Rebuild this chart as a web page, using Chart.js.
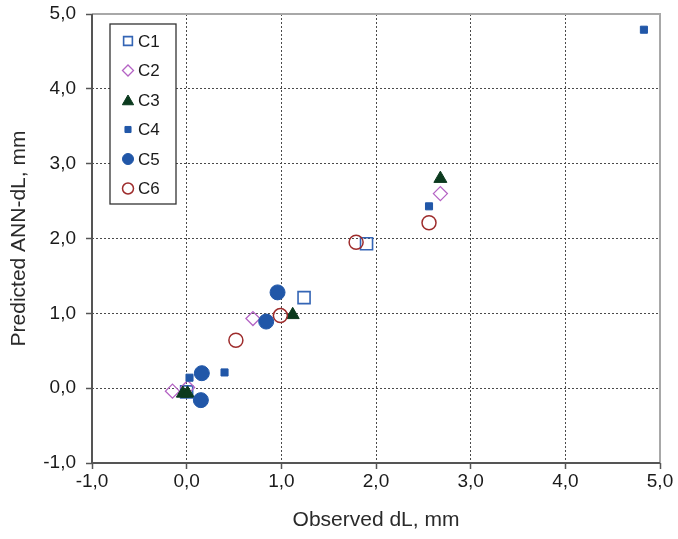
<!DOCTYPE html>
<html>
<head>
<meta charset="utf-8">
<script src="https://cdn.jsdelivr.net/npm/chart.js@4/dist/chart.umd.min.js"></script>
<style>
  html, body { margin: 0; padding: 0; background: #ffffff; }
  #wrap { width: 678px; height: 539px; position: relative; }
</style>
</head>
<body>
<div id="wrap"><canvas id="c" width="678" height="539"></canvas></div>
<script>
// ---- data ----
const seriesNames = ['C1', 'C2', 'C3', 'C4', 'C5', 'C6'];
const xC1 = [0.00, 1.24, 1.90];
const yC1 = [-0.05, 1.21, 1.93];
const xC2 = [-0.15, 0.01, 0.70, 2.68];
const yC2 = [-0.04, 0.01, 0.93, 2.60];
const xC3 = [-0.04, 0.01, 1.12, 2.68];
const yC3 = [-0.07, -0.07, 0.98, 2.80];
const xC4 = [0.03, 0.40, 2.56, 4.83];
const yC4 = [0.14, 0.21, 2.43, 4.79];
const xC5 = [0.15, 0.16, 0.84, 0.96];
const yC5 = [-0.16, 0.20, 0.89, 1.28];
const xC6 = [0.52, 0.99, 1.79, 2.56];
const yC6 = [0.64, 0.97, 1.95, 2.21];
const xTickLabels = ['-1,0', '0,0', '1,0', '2,0', '3,0', '4,0', '5,0'];
const yTickLabels = ['-1,0', '0,0', '1,0', '2,0', '3,0', '4,0', '5,0'];
const xTitle = 'Observed dL, mm';
const yTitle = 'Predicted ANN-dL, mm';

const FONT = "'Liberation Sans', Arial, sans-serif";

function pts(xs, ys) { return xs.map((x, i) => ({ x: x, y: ys[i] })); }

const styles = [
  { pointStyle: 'rect',     radius: 8.5, bg: 'rgba(255,255,255,0)', border: '#3465b5', bw: 1.6, lr: 6.2 },
  { pointStyle: 'rectRot',  radius: 7,   bg: 'rgba(255,255,255,0)', border: '#b463c4', bw: 1.3, lr: 5.5 },
  { pointStyle: 'triangle', radius: 7.5, bg: '#0b3a1e',             border: '#0b3a1e', bw: 1,   lr: 6.5 },
  { pointStyle: 'rect',     radius: 5,   bg: '#2157a8',             border: '#2157a8', bw: 1,   lr: 4.3 },
  { pointStyle: 'circle',   radius: 7.5, bg: '#2157a8',             border: '#2157a8', bw: 1,   lr: 5.5 },
  { pointStyle: 'circle',   radius: 7,   bg: 'rgba(255,255,255,0)', border: '#9e2c2c', bw: 1.5, lr: 5.5 }
];
const xs = [xC1, xC2, xC3, xC4, xC5, xC6];
const ys = [yC1, yC2, yC3, yC4, yC5, yC6];

const datasets = seriesNames.map((n, i) => ({
  label: n,
  data: pts(xs[i], ys[i]),
  pointStyle: styles[i].pointStyle,
  pointRadius: styles[i].radius,
  pointHoverRadius: styles[i].radius,
  backgroundColor: styles[i].bg,
  borderColor: styles[i].border,
  pointBorderWidth: styles[i].bw,
  borderWidth: styles[i].bw,
  showLine: false,
  order: 6 - i
}));

const framePlugin = {
  id: 'frame',
  beforeDatasetsDraw(chart) {
    const { ctx, chartArea: a } = chart;
    ctx.save();
    ctx.lineWidth = 2;
    ctx.strokeStyle = '#a8a8a8';
    ctx.beginPath();
    ctx.moveTo(a.left, a.top); ctx.lineTo(a.right, a.top); ctx.lineTo(a.right, a.bottom);
    ctx.stroke();
    ctx.strokeStyle = '#555555';
    ctx.beginPath();
    ctx.moveTo(a.left, a.top); ctx.lineTo(a.left, a.bottom); ctx.lineTo(a.right, a.bottom);
    ctx.stroke();
    ctx.restore();
  }
};

const legendPlugin = {
  id: 'boxLegend',
  afterDraw(chart) {
    const ctx = chart.ctx;
    ctx.save();
    ctx.fillStyle = '#ffffff';
    ctx.fillRect(110, 24, 66, 180);
    ctx.strokeStyle = '#333333';
    ctx.lineWidth = 1.3;
    ctx.strokeRect(110, 24, 66, 180);
    seriesNames.forEach((n, i) => {
      const y = 41 + i * 29.5;
      const s = styles[i];
      ctx.fillStyle = s.bg;
      ctx.strokeStyle = s.border;
      ctx.lineWidth = s.bw;
      Chart.helpers.drawPoint(ctx, { pointStyle: s.pointStyle, radius: s.lr, rotation: 0, borderWidth: s.bw }, 128, y + (s.pointStyle === 'triangle' ? 1.5 : 0));
      ctx.fillStyle = '#1a1a1a';
      ctx.font = '17px ' + FONT;
      ctx.textBaseline = 'middle';
      ctx.textAlign = 'left';
      ctx.fillText(n, 138, y + 1);
    });
    ctx.restore();
  }
};

new Chart(document.getElementById('c'), {
  type: 'scatter',
  data: { datasets: datasets },
  options: {
    responsive: false,
    animation: false,
    events: [],
    layout: { padding: { top: 14, right: 18, left: 0, bottom: 0 } },
    plugins: { legend: { display: false }, tooltip: { enabled: false } },
    scales: {
      x: {
        type: 'linear', min: -1, max: 5,
        afterFit(s) { s.height = 76; s.paddingLeft = 0; s.paddingRight = 0; },
        ticks: {
          stepSize: 1, padding: 1, color: '#1a1a1a',
          font: { family: FONT, size: 19 },
          callback: (v, i) => xTickLabels[i]
        },
        grid: { color: '#4a4a4a', lineWidth: 1, drawTicks: true, tickLength: 6, tickColor: '#555555', tickWidth: 1.5 },
        border: { display: false, dash: [2, 2] },
        title: { display: true, text: xTitle, color: '#2a2a2a', font: { family: FONT, size: 21 }, padding: { top: 0, bottom: 6 } }
      },
      y: {
        type: 'linear', min: -1, max: 5,
        afterFit(s) { s.width = 92; s.paddingTop = 0; s.paddingBottom = 0; },
        ticks: {
          stepSize: 1, padding: 10, color: '#1a1a1a',
          font: { family: FONT, size: 19 },
          callback: (v, i) => yTickLabels[i]
        },
        grid: { color: '#4a4a4a', lineWidth: 1, drawTicks: true, tickLength: 6, tickColor: '#555555', tickWidth: 1.5 },
        border: { display: false, dash: [2, 2] },
        title: { display: true, text: yTitle, color: '#2a2a2a', font: { family: FONT, size: 21 }, padding: { top: 7, bottom: 0 } }
      }
    }
  },
  plugins: [framePlugin, legendPlugin]
});
</script>
</body>
</html>
